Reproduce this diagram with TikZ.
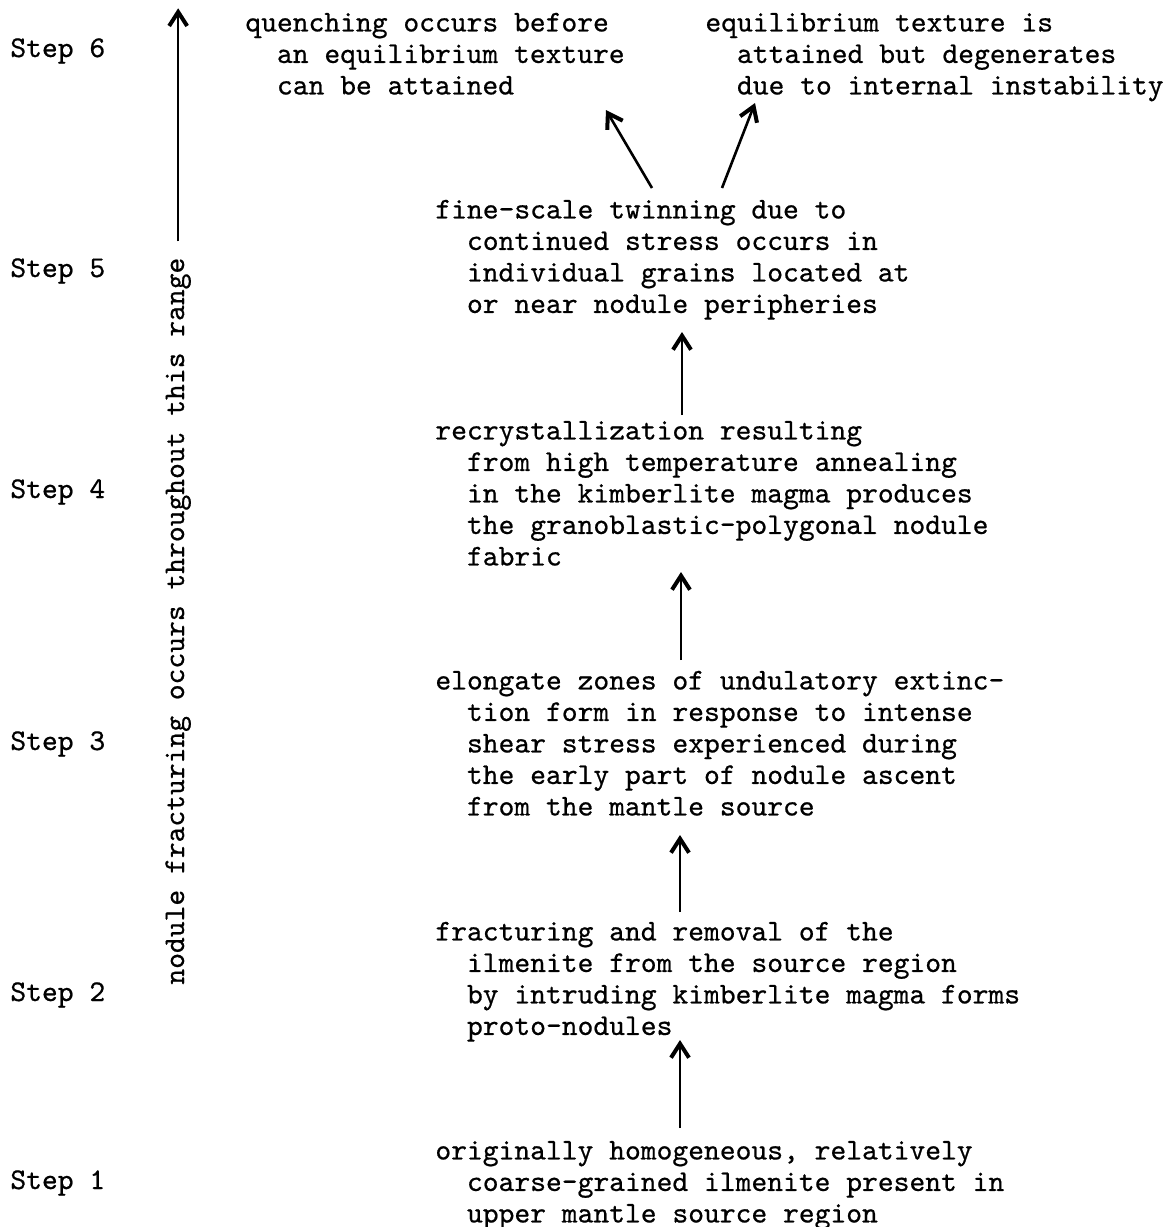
\documentclass[tikz,border=0pt]{standalone}
\usepackage{fontspec}
\usepackage{tikz}
\usetikzlibrary{positioning,arrows.meta}

\newfontfamily\typew{lmmono10-regular.otf}[FakeBold=0.6]
\newcommand{\ind}{\phantom{xx}}

\begin{document}
\begin{tikzpicture}
    [x=0.5pt,y=-0.5pt,
     every node/.style={inner sep=0pt,font=\typew\fontsize{15.05}{15.75}\selectfont},
     steplabel/.style={anchor=base west},
     stage/.style={anchor=north west,align=left},
     up/.style={-{Straight Barb[length=7pt,width=9pt,line width=2pt]},line width=1.3pt}]

    \useasboundingbox (0,0) rectangle (1176,1227);

    % step labels on the left
    \node[steplabel] (l6) at (10,57) {Step 6};
    \node[steplabel] (l5) at (10,277) {Step 5};
    \node[steplabel] (l4) at (10,498) {Step 4};
    \node[steplabel] (l3) at (10,750) {Step 3};
    \node[steplabel] (l2) at (10,1001) {Step 2};
    \node[steplabel] (l1) at (10,1189) {Step 1};

    \node[anchor=base west,rotate=90] (range) at (184,985)
      {nodule fracturing occurs throughout this range};
    \draw[up] ([yshift=8pt]range.east) -- ++(0,-233);

    % stages
    \node[stage] (s1) at (435,1137) {\strut originally homogeneous, relatively\\
      \ind coarse-grained ilmenite present in\\
      \ind upper mantle source region};
    \node[stage] (s2) at (435,918) {\strut fracturing and removal of the\\
      \ind ilmenite from the source region\\
      \ind by intruding kimberlite magma forms\\
      \ind proto-nodules};
    \node[stage] (s3) at (435,667) {\strut elongate zones of undulatory extinc-\\
      \ind tion form in response to intense\\
      \ind shear stress experienced during\\
      \ind the early part of nodule ascent\\
      \ind from the mantle source};
    \node[stage] (s4) at (435,417) {\strut recrystallization resulting\\
      \ind from high temperature annealing\\
      \ind in the kimberlite magma produces\\
      \ind the granoblastic-polygonal nodule\\
      \ind fabric};
    \node[stage] (s5) at (435,196) {\strut fine-scale twinning due to\\
      \ind continued stress occurs in\\
      \ind individual grains located at\\
      \ind or near nodule peripheries};
    \node[stage] (s6a) at (245,9) {\strut quenching occurs before\\
      \ind an equilibrium texture\\
      \ind can be attained};
    \node[stage] (s6b) at (705,9) {\strut equilibrium texture is\\
      \ind attained but degenerates\\
      \ind due to internal instability};

    % arrows between stages
    \draw[up] ([shift={(245,-9)}]s1.north west) -- ([shift={(245,122)}]s2.north west);
    \draw[up] ([shift={(245,-6)}]s2.north west) -- ([shift={(245,168)}]s3.north west);
    \draw[up] ([shift={(246,-7)}]s3.north west) -- ([shift={(246,155)}]s4.north west);
    \draw[up] ([shift={(247,-2)}]s4.north west) -- ([shift={(247,136)}]s5.north west);
    \draw[up] ([shift={(217,-8)}]s5.north west) -- ([shift={(361,101)}]s6a.north west);
    \draw[up] ([shift={(287,-8)}]s5.north west) -- ([shift={(50,94)}]s6b.north west);
\end{tikzpicture}
\end{document}
